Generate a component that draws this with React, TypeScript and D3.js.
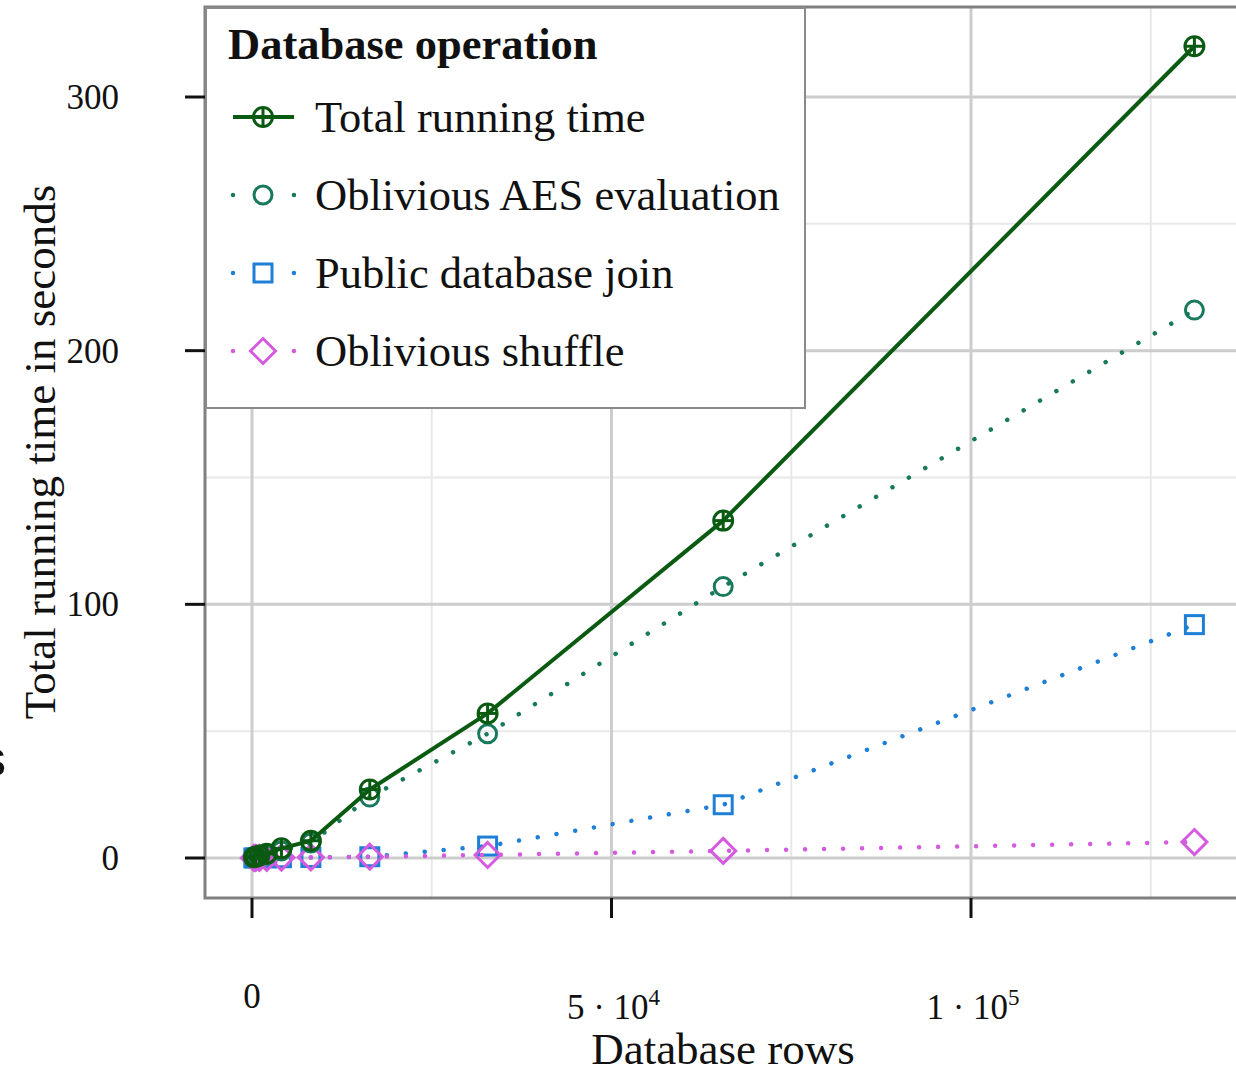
import React from "react";
import * as d3 from "d3";

const rows = [256, 512, 1024, 2048, 4096, 8192, 16384, 32768, 65536, 131072];
const totalTime = [0.3, 0.5, 1.0, 1.7, 3.8, 6.8, 27, 57, 133, 320];
const aesTime = [0.2, 0.4, 0.8, 1.3, 2.8, 5.9, 24, 49, 107, 216];
const joinTime = [0.02, 0.03, 0.05, 0.08, 0.1, 0.2, 0.5, 4.7, 21, 92];
const shuffleTime = [0.01, 0.02, 0.04, 0.08, 0.15, 0.25, 0.5, 1.2, 2.8, 6.3];

const seriesNames = [
  "Total running time",
  "Oblivious AES evaluation",
  "Public database join",
  "Oblivious shuffle",
];
const legendTitle = "Database operation";
const yTicks = [0, 100, 200, 300];
const yMinorTicks = [50, 150, 250];
const xTicks = [0, 50000, 100000];
const xMinorTicks = [25000, 75000, 125000];
const xTickLabels = [
  { base: "0", exp: "" },
  { base: "5 · 10", exp: "4" },
  { base: "1 · 10", exp: "5" },
];

const colors = ["#0b5a12", "#18795c", "#1d80d6", "#d55ae0"];
const FONT = "'Liberation Serif', 'Times New Roman', serif";

const W = 1236;
const H = 1069;
const plotLeft = 205;
const plotTop = 7;
const plotBottom = 898;
const plotRight = 1260;

const x = d3.scaleLinear().domain([0, 100000]).range([252, 971]);
const y = d3.scaleLinear().domain([0, 300]).range([858, 97]);

type Kind = "oplus" | "circle" | "square" | "diamond";
const kinds: Kind[] = ["oplus", "circle", "square", "diamond"];

function Marker({ kind, cx, cy, color }: { kind: Kind; cx: number; cy: number; color: string }) {
  const sw = 3;
  if (kind === "oplus") {
    const r = 9.5;
    return (
      <g stroke={color} strokeWidth={sw} fill="none">
        <circle cx={cx} cy={cy} r={r} />
        <line x1={cx - r} x2={cx + r} y1={cy} y2={cy} />
        <line x1={cx} x2={cx} y1={cy - r} y2={cy + r} />
      </g>
    );
  }
  if (kind === "circle") {
    return <circle cx={cx} cy={cy} r={9} stroke={color} strokeWidth={sw} fill="none" />;
  }
  if (kind === "square") {
    const s = 9;
    return (
      <rect x={cx - s} y={cy - s} width={2 * s} height={2 * s} stroke={color} strokeWidth={sw} fill="none" />
    );
  }
  const d = 12.5;
  return (
    <path
      d={`M${cx},${cy - d}L${cx + d},${cy}L${cx},${cy + d}L${cx - d},${cy}Z`}
      stroke={color}
      strokeWidth={sw}
      fill="none"
    />
  );
}

export default function App() {
  const allSeries = [totalTime, aesTime, joinTime, shuffleTime];
  const lineGen = d3
    .line<number>()
    .x((_, i) => x(rows[i]))
    .y((v) => y(v));
  const drawOrder = [2, 3, 1, 0];

  return (
    <svg
      width={W}
      height={H}
      style={{ position: "absolute", left: 0, top: 0, background: "#fff" }}
      fontFamily={FONT}
    >
      <defs>
        <clipPath id="plotClip">
          <rect x={plotLeft} y={plotTop} width={plotRight - plotLeft} height={plotBottom - plotTop} />
        </clipPath>
      </defs>
      <rect x={0} y={0} width={W} height={H} fill="#fff" />

      {/* grid */}
      <g clipPath="url(#plotClip)">
        {xMinorTicks.map((t) => (
          <line key={"xm" + t} x1={x(t)} x2={x(t)} y1={plotTop} y2={plotBottom} stroke="#e8e8e8" strokeWidth={2} />
        ))}
        {yMinorTicks.map((t) => (
          <line key={"ym" + t} x1={plotLeft} x2={plotRight} y1={y(t)} y2={y(t)} stroke="#e8e8e8" strokeWidth={2} />
        ))}
        {xTicks.map((t) => (
          <line key={"xg" + t} x1={x(t)} x2={x(t)} y1={plotTop} y2={plotBottom} stroke="#cdcdcd" strokeWidth={3} />
        ))}
        {yTicks.map((t) => (
          <line key={"yg" + t} x1={plotLeft} x2={plotRight} y1={y(t)} y2={y(t)} stroke="#cdcdcd" strokeWidth={3} />
        ))}
      </g>

      {/* frame */}
      <path
        d={`M${plotRight},${plotTop}H${plotLeft}V${plotBottom}H${plotRight}`}
        fill="none"
        stroke="#808080"
        strokeWidth={3}
      />

      {/* ticks */}
      {yTicks.map((t) => (
        <line key={"yt" + t} x1={185} x2={plotLeft} y1={y(t)} y2={y(t)} stroke="#111" strokeWidth={3} />
      ))}
      {xTicks.map((t) => (
        <line key={"xt" + t} x1={x(t)} x2={x(t)} y1={plotBottom} y2={918} stroke="#111" strokeWidth={3} />
      ))}

      {/* tick labels */}
      {yTicks.map((t) => (
        <text key={"yl" + t} x={119} y={y(t)} dy="0.34em" textAnchor="end" fontSize={35} fill="#111">
          {t}
        </text>
      ))}
      {xTicks.map((t, i) => {
        const lab = xTickLabels[i];
        if (!lab.exp) {
          return (
            <text key={"xl" + t} x={x(t)} y={1008} textAnchor="middle" fontSize={35} fill="#111">
              {lab.base}
            </text>
          );
        }
        return (
          <text key={"xl" + t} x={x(t) + 2} y={1019} textAnchor="middle" fontSize={35} fill="#111">
            {lab.base}
            <tspan fontSize={23} dy={-14}>
              {lab.exp}
            </tspan>
          </text>
        );
      })}

      {/* axis labels */}
      <text x={723} y={1064} textAnchor="middle" fontSize={45} fill="#111">
        Database rows
      </text>
      <text
        transform={`translate(55, 452) rotate(-90)`}
        textAnchor="middle"
        fontSize={45}
        fill="#111"
      >
        Total running time in seconds
      </text>

      {/* stray cropped glyph at the left edge */}
      <text x={-19} y={776} fontSize={50} fontFamily="'Liberation Sans', Arial, sans-serif" fill="#111">
        s
      </text>

      {/* series */}
      <g clipPath="url(#plotClip)">
        {drawOrder.map((si) => {
          const vals = allSeries[si];
          const dotted = si !== 0;
          return (
            <g key={"s" + si}>
              <path
                d={lineGen(vals) || ""}
                fill="none"
                stroke={colors[si]}
                strokeWidth={dotted ? 4.5 : 4}
                strokeDasharray={dotted ? "0.01 19" : undefined}
                strokeLinecap={dotted ? "round" : "butt"}
                strokeLinejoin="round"
              />
              {vals.map((v, i) => (
                <Marker key={i} kind={kinds[si]} cx={x(rows[i])} cy={y(v)} color={colors[si]} />
              ))}
            </g>
          );
        })}
      </g>

      {/* legend */}
      <g>
        <rect x={206} y={8} width={599} height={400} fill="#fff" stroke="#8a8a8a" strokeWidth={2} />
        <text x={228} y={59} fontSize={44.5} fontWeight="bold" fill="#111">
          {legendTitle}
        </text>
        {seriesNames.map((name, i) => {
          const cy = 117 + i * 78;
          const dotted = i !== 0;
          return (
            <g key={"lg" + i}>
              <line
                x1={233}
                x2={294}
                y1={cy}
                y2={cy}
                stroke={colors[i]}
                strokeWidth={dotted ? 4.5 : 4}
                strokeDasharray={dotted ? "0.01 60.9" : undefined}
                strokeLinecap={dotted ? "round" : "butt"}
              />
              <Marker kind={kinds[i]} cx={263} cy={cy} color={colors[i]} />
              <text x={315} y={cy + 15} fontSize={44.5} fill="#111">
                {name}
              </text>
            </g>
          );
        })}
      </g>
    </svg>
  );
}
